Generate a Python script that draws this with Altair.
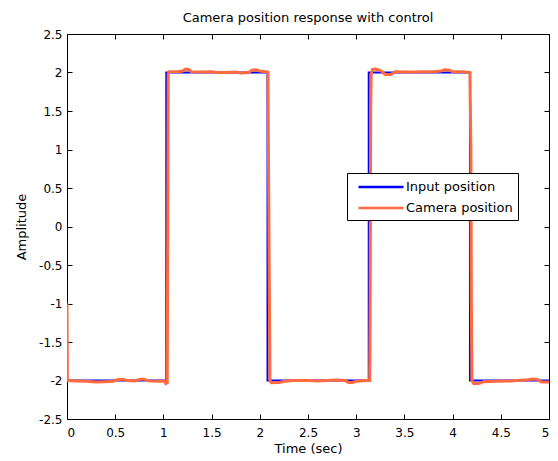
import altair as alt
import pandas as pd

# Input position (square wave)
in_t = [0.0, 1.03, 1.03, 2.08, 2.08, 3.13, 3.13, 4.18, 4.18, 5.0]
in_v = [-2.0, -2.0, 2.0, 2.0, -2.0, -2.0, 2.0, 2.0, -2.0, -2.0]

# Camera position
cam_t = [0.000, 0.004, 0.10, 0.20, 0.30, 0.40, 0.48, 0.52, 0.58, 0.62, 0.70, 0.76, 0.80, 0.84, 0.95, 1.01, 1.025, 1.04,
         1.045, 1.05, 1.06, 1.15, 1.20, 1.23, 1.26, 1.29, 1.40, 1.50, 1.55, 1.65, 1.75, 1.80, 1.88, 1.92, 1.96, 2.00,
         2.06, 2.085, 2.09, 2.10, 2.105, 2.12, 2.20, 2.26, 2.35, 2.50, 2.60, 2.70, 2.80, 2.88, 2.92, 2.96, 3.00, 3.10,
         3.14, 3.145, 3.15, 3.155, 3.17, 3.20, 3.24, 3.27, 3.30, 3.36, 3.40, 3.50, 3.60, 3.70, 3.80, 3.88, 3.92, 3.97,
         4.00, 4.10, 4.18, 4.19, 4.195, 4.20, 4.22, 4.28, 4.32, 4.45, 4.60, 4.75, 4.83, 4.88, 4.92, 5.00]
cam_v = [-1.00, -2.00, -2.005, -2.01, -2.02, -2.015, -2.01, -1.99, -1.985, -2.00, -2.005, -1.985, -1.985, -2.005, -2.01, -2.01, -2.04, -2.03,
         0.0, 1.98, 2.01, 2.01, 2.02, 2.045, 2.04, 2.01, 2.005, 2.01, 2.0, 2.0, 2.005, 1.995, 2.0, 2.03, 2.035, 2.02,
         2.01, 2.005, 0.9, -1.0, -2.0, -2.03, -2.025, -2.01, -2.0, -2.0, -2.005, -2.0, -1.995, -2.0, -2.025, -2.025, -2.01, -2.0,
         -2.0, -1.0, 1.5, 1.98, 2.04, 2.045, 2.03, 2.01, 1.975, 1.975, 2.01, 2.005, 2.005, 2.01, 2.01, 2.02, 2.035, 2.03,
         2.01, 2.01, 2.0, 1.0, -1.0, -2.0, -2.04, -2.035, -2.015, -2.01, -2.005, -1.995, -1.98, -1.985, -2.02, -2.02]

series = ["Input position", "Camera position"]
colors = ["#0000FF", "#FF6B3F"]

x_ticks = [0, 0.5, 1, 1.5, 2, 2.5, 3, 3.5, 4, 4.5, 5]
y_ticks = [-2.5, -2, -1.5, -1, -0.5, 0, 0.5, 1, 1.5, 2, 2.5]

df_in = pd.DataFrame({"t": in_t, "v": in_v, "series": series[0]})
df_cam = pd.DataFrame({"t": cam_t, "v": cam_v, "series": series[1]})

FONT = "DejaVu Sans"
xs = alt.Scale(domain=[0, 5], nice=False, zero=False)
ys = alt.Scale(domain=[-2.5, 2.5], nice=False, zero=False)
cs = alt.Scale(domain=series, range=colors)

common = dict(domain=False, grid=False, tickColor="black", tickWidth=1, tickSize=5,
              offset=-5, labelColor="black", labelFont=FONT, labelFontSize=12,
              titleColor="black", titleFont=FONT, titleFontSize=13, titleFontWeight="normal")

x_bottom = alt.Axis(orient="bottom", values=x_ticks, labelExpr="datum.value + ''",
                    labelPadding=8, title="Time (sec)", titlePadding=4, **common)
y_left = alt.Axis(orient="left", values=y_ticks, labelExpr="datum.value + ''",
                  labelPadding=5, title="Amplitude", titlePadding=10, **common)
x_top = alt.Axis(orient="top", values=x_ticks, labels=False, title=None,
                 domain=False, grid=False, tickColor="black", tickWidth=1, tickSize=5, offset=-5)
y_right = alt.Axis(orient="right", values=y_ticks, labels=False, title=None,
                   domain=False, grid=False, tickColor="black", tickWidth=1, tickSize=5, offset=-5)

leg = alt.Legend(orient="none", legendX=280, legendY=139, title=None,
                 symbolType="M-3,0H3", symbolStrokeWidth=2.5, symbolSize=225,
                 symbolOffset=20, labelOffset=16,
                 labelFont=FONT, labelFontSize=13, labelColor="black",
                 strokeColor="black", fillColor="white", padding=5, rowPadding=5)

blue = alt.Chart(df_in).mark_line(strokeWidth=2, clip=True).encode(
    x=alt.X("t:Q", scale=xs, axis=x_bottom),
    y=alt.Y("v:Q", scale=ys, axis=y_left),
    color=alt.Color("series:N", scale=cs, legend=leg),
)
orange = alt.Chart(df_cam).mark_line(strokeWidth=3, clip=True).encode(
    x=alt.X("t:Q", scale=xs, axis=None),
    y=alt.Y("v:Q", scale=ys, axis=None),
    color=alt.Color("series:N", scale=cs, legend=leg),
)
frame = alt.Chart(df_cam).mark_line(opacity=0).encode(
    x=alt.X("t:Q", scale=xs, axis=x_top),
    y=alt.Y("v:Q", scale=ys, axis=y_right),
)

chart = alt.layer(blue, orange, frame).resolve_axis(x="independent", y="independent").properties(
    width=482, height=385,
    autosize=alt.AutoSizeParams(type="none"),
    padding={"left": 59, "top": 26, "right": 1, "bottom": 42},
    title=alt.TitleParams("Camera position response with control", font=FONT, fontSize=13,
                          fontWeight="normal", color="black", offset=3, anchor="middle"),
).configure_view(stroke="black", strokeWidth=1)

chart.save("out.html", embed_options={"renderer": "svg", "actions": False})
